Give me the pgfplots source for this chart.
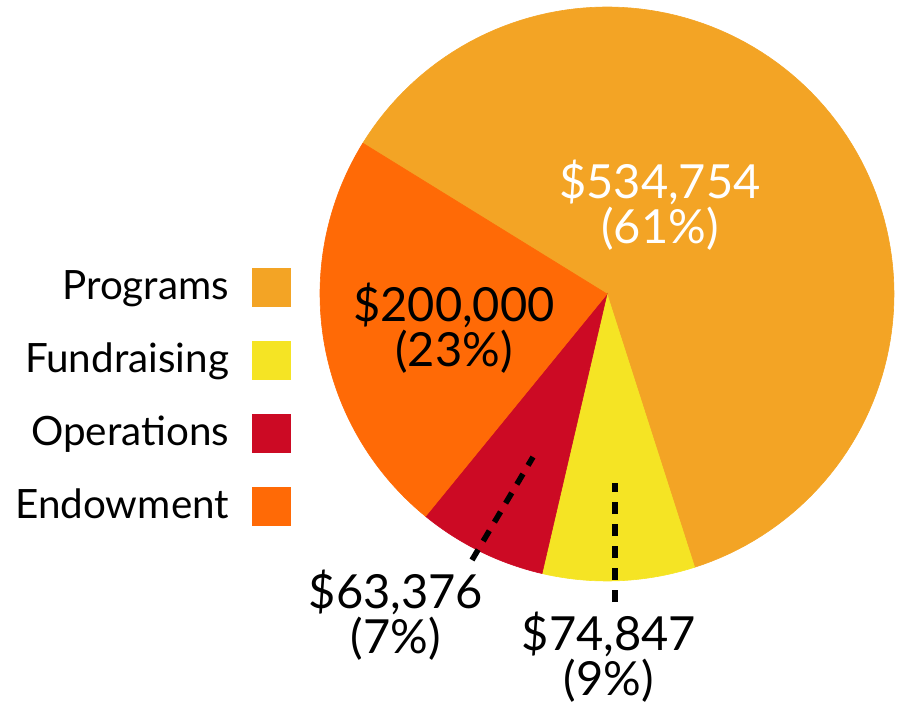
\documentclass[border=0pt]{standalone}
\usepackage{pgfplots}
\pgfplotsset{compat=1.18}
\usepackage{fontspec}
\setmainfont{Lato}
\definecolor{cProg}{HTML}{F3A425}
\definecolor{cFund}{HTML}{F5E424}
\definecolor{cOper}{HTML}{CC0A24}
\definecolor{cEndo}{HTML}{FF6A06}
% data (dollars)
\def\vProg{534754}
\def\vFund{74847}
\def\vOper{63376}
\def\vEndo{200000}
\edef\vTot{\fpeval{\vProg+\vFund+\vOper+\vEndo}}
\def\aStart{148.3}
\edef\aA{\fpeval{\aStart-360*\vProg/\vTot}}
\edef\aB{\fpeval{\aA-360*\vFund/\vTot}}
\edef\aC{\fpeval{\aB-360*\vOper/\vTot}}
\edef\aD{\fpeval{\aC-360*\vEndo/\vTot}}
\def\cx{607}
\def\cy{414}
\def\rr{287}
\begin{document}
\begin{tikzpicture}
\begin{axis}[name=ax,
  scale only axis, width=449.5pt, height=354pt,
  xmin=0, xmax=899, ymin=0, ymax=708,
  hide axis, clip=false,
  legend plot pos=right,
  legend cell align=right,
  legend style={draw=none, fill=none, at={(axis cs:297,446)}, anchor=north east,
    font=\fontsize{20.2}{20.2}\selectfont, row sep=16.2pt, column sep=9.5pt},
  legend image code/.code={\fill[#1] (0pt,-10pt) rectangle (19pt,9pt);},
]
\addplot[fill=cProg, draw=cProg, line width=0.3pt, domain=\aA:\aStart, samples=120]
  ({\cx+\rr*cos(x)},{\cy+\rr*sin(x)}) -- (axis cs:\cx,\cy) -- cycle;
\addlegendentry{Programs}
\addplot[fill=cFund, draw=cFund, line width=0.3pt, domain=\aB:\aA, samples=30]
  ({\cx+\rr*cos(x)},{\cy+\rr*sin(x)}) -- (axis cs:\cx,\cy) -- cycle;
\addlegendentry{Fundraising}
\addplot[fill=cOper, draw=cOper, line width=0.3pt, domain=\aC:\aB, samples=30]
  ({\cx+\rr*cos(x)},{\cy+\rr*sin(x)}) -- (axis cs:\cx,\cy) -- cycle;
\addlegendentry{Operations}
\addplot[fill=cEndo, draw=cEndo, line width=0.3pt, domain=\aD:\aC, samples=60]
  ({\cx+\rr*cos(x)},{\cy+\rr*sin(x)}) -- (axis cs:\cx,\cy) -- cycle;
\addlegendentry{Endowment}
% leader lines
\draw[line width=2.8pt, dash pattern=on 6pt off 5pt] (axis cs:472,148) -- (axis cs:533,251);
\draw[line width=2.8pt, dash pattern=on 6pt off 5pt] (axis cs:615,106) -- (axis cs:615,225);
% labels
\tikzset{lbl/.style={align=center, font=\fontsize{23.5}{22.5}\selectfont, inner sep=0pt}}
\node[lbl, text=white] at (axis cs:660,503) {\$534,754\\(61\%)};
\node[lbl] at (axis cs:454,380) {\$200,000\\(23\%)};
\node[lbl] at (axis cs:396,93) {\$63,376\\(7\%)};
\node[lbl] at (axis cs:609,51) {\$74,847\\(9\%)};
\end{axis}
\pgfresetboundingbox
\path (ax.south west) rectangle (ax.north east);
\end{tikzpicture}
\end{document}
